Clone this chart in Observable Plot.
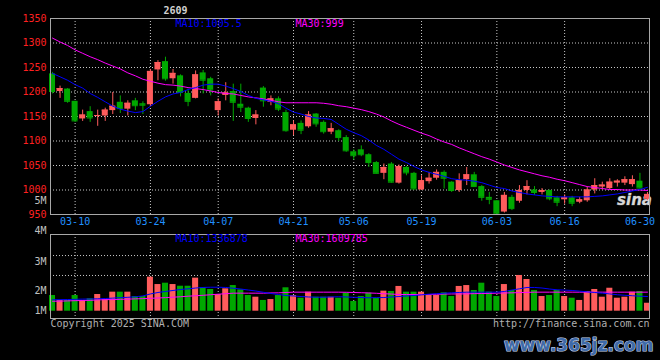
<!DOCTYPE html>
<html><head><meta charset="utf-8">
<script src="https://cdn.jsdelivr.net/npm/d3@7"></script>
<script src="https://cdn.jsdelivr.net/npm/@observablehq/plot@0.6"></script>
<style>
html,body{margin:0;padding:0;background:#000;}
#chart{position:relative;width:660px;height:360px;background:#000;overflow:hidden;}
#chart svg{position:absolute;left:0;overflow:visible;}
</style></head><body><div id="chart"></div>
<script>
const dates = ["03-05","03-06","03-07","03-10","03-11","03-12","03-13","03-14","03-17","03-18",
"03-19","03-20","03-21","03-24","03-25","03-26","03-27","03-28","03-31","04-01",
"04-02","04-03","04-07","04-08","04-09","04-10","04-11","04-14","04-15","04-16",
"04-17","04-18","04-21","04-22","04-23","04-24","04-25","04-28","04-29","04-30",
"05-06","05-07","05-08","05-09","05-12","05-13","05-14","05-15","05-16","05-19",
"05-20","05-21","05-22","05-23","05-26","05-27","05-28","05-29","05-30","06-03",
"06-04","06-05","06-06","06-09","06-10","06-11","06-12","06-13","06-16","06-17",
"06-18","06-19","06-20","06-23","06-24","06-25","06-26","06-27","06-30","07-01"];
const open  = [1237,1201,1206,1181,1145,1160,1150,1151,1162,1179,1165,1182,1176,1174,1245,1262,1227,1233,1197,1187,
1239,1227,1162,1193,1201,1175,1167,1146,1208,1179,1186,1158,1122,1136,1129,1155,1138,1118,1121,1107,
1078,1082,1072,1056,1034,1053,1014,1046,1034,1000,1017,1024,1036,1016,999,1021,1031,1007,985,978,
955,985,977,999,1000,995,999,984,980,984,975,978,1000,1006,1003,1014,1014,1011,1018,981];
const close = [1201,1207,1181,1141,1153,1147,1152,1163,1171,1166,1177,1172,1173,1242,1260,1227,1238,1199,1181,1235,
1224,1204,1180,1198,1179,1169,1146,1153,1182,1186,1165,1121,1133,1122,1153,1135,1119,1125,1107,1080,
1070,1072,1056,1034,1046,1016,1048,1035,1002,1019,1024,1036,1024,999,1019,1031,1007,985,981,951,
989,962,999,1007,995,999,982,975,984,973,980,1000,1009,1010,1016,1018,1021,1021,1004,991];
const high  = [1240,1212,1207,1181,1163,1170,1163,1167,1199,1192,1182,1187,1180,1246,1264,1271,1246,1235,1206,1243,
1244,1230,1186,1219,1216,1216,1169,1162,1211,1192,1190,1163,1141,1141,1160,1156,1141,1136,1123,1111,
1082,1090,1074,1058,1053,1056,1051,1048,1036,1029,1036,1041,1039,1017,1033,1046,1036,1009,995,978,
995,989,1009,1019,1007,1003,1000,987,990,987,985,1006,1023,1016,1023,1021,1027,1029,1034,995];
const low   = [1196,1187,1177,1138,1140,1138,1130,1140,1154,1156,1151,1162,1154,1170,1223,1222,1216,1190,1170,1186,
1196,1192,1151,1182,1140,1158,1138,1133,1169,1172,1160,1118,1111,1113,1126,1128,1114,1113,1099,1077,
1061,1068,1046,1033,1021,1014,1012,1029,1001,999,1012,1020,1002,995,995,1009,1006,977,970,950,
953,958,973,990,989,990,978,966,971,966,972,975,992,1000,1000,1006,1009,1006,1002,978];
const ma10 = [1238,1231,1224,1215,1208,1197,1189,1180,1171,1165,1161,1158,1160,1171,1181,1190,1196,1199,1205,1209,
1214,1216,1216,1212,1207,1201,1193,1187,1184,1181,1176,1167,1159,1155,1150,1147,1146,1144,1134,1124,
1117,1111,1102,1091,1083,1073,1063,1056,1048,1041,1036,1032,1028,1023,1021,1020,1018,1015,1010,1005,
1003,998,995,992,990,988,987,986,986,986,986,986,987,988,990,992,995,998,1001,1005.5];
const ma30 = [1310,1302,1295,1286,1279,1272,1266,1259,1253,1247,1239,1233,1226,1222,1218,1215,1214,1212,1209,1207,
1205,1202,1199,1197,1196,1193,1190,1188,1186,1183,1180,1178,1178,1178,1178,1178,1177,1175,1172,1170,
1167,1164,1160,1155,1149,1141,1134,1128,1122,1116,1111,1104,1098,1093,1086,1080,1074,1068,1063,1057,
1051,1046,1041,1037,1033,1029,1026,1022,1019,1015,1011,1007,1005,1003,1001,1001,1000,1000,1000,999];
// volume in millions
const volumeM = [1.40,0.96,0.96,1.40,0.96,1.11,1.49,1.04,1.70,1.70,1.70,1.31,1.31,3.04,2.38,2.50,2.38,2.23,2.23,2.95,
2.09,1.94,1.49,2.00,2.29,1.91,1.40,1.25,0.96,1.04,1.40,2.09,1.40,1.16,1.70,1.25,1.25,1.25,1.16,1.61,
0.87,1.31,1.61,1.16,1.79,1.76,2.21,1.70,1.70,1.70,1.40,1.40,1.64,1.31,2.21,2.29,1.85,2.50,1.70,1.31,
2.38,1.85,3.19,2.83,1.85,1.31,1.40,1.85,1.31,1.16,0.96,1.76,1.94,1.25,2.05,1.16,1.25,1.70,1.76,0.71];
const volMa10 = [1.02,1.03,1.04,1.06,1.08,1.09,1.11,1.13,1.17,1.21,1.24,1.29,1.36,1.54,1.67,1.76,1.85,1.94,2.00,2.07,
2.12,2.14,2.14,2.12,2.05,1.98,1.89,1.80,1.69,1.58,1.49,1.40,1.36,1.31,1.27,1.25,1.25,1.27,1.29,1.27,
1.24,1.22,1.20,1.21,1.22,1.27,1.31,1.36,1.40,1.46,1.52,1.56,1.61,1.64,1.67,1.70,1.70,1.70,1.70,1.70,
1.76,1.89,2.00,2.12,2.12,2.07,1.98,1.91,1.88,1.85,1.79,1.73,1.67,1.61,1.54,1.47,1.42,1.38,1.34,1.31];
const volMa30 = [0.89,0.90,0.92,0.94,0.96,0.97,1.01,1.03,1.04,1.06,1.08,1.10,1.12,1.15,1.18,1.21,1.25,1.29,1.34,1.38,
1.42,1.47,1.52,1.56,1.61,1.61,1.61,1.61,1.61,1.63,1.64,1.67,1.70,1.70,1.70,1.70,1.70,1.70,1.70,1.69,
1.67,1.65,1.63,1.60,1.56,1.53,1.49,1.49,1.49,1.49,1.49,1.51,1.53,1.54,1.54,1.55,1.57,1.58,1.59,1.61,
1.63,1.64,1.66,1.68,1.70,1.70,1.70,1.70,1.70,1.70,1.70,1.70,1.70,1.70,1.70,1.70,1.70,1.70,1.70,1.70];
const volMa10Label = 1336878, volMa30Label = 1609785;
const priceTicks = [950,1000,1050,1100,1150,1200,1250,1300,1350];
const priceGrid = [1000,1050,1100,1150,1200,1250,1300];
const labelDates = ["03-10","03-24","04-07","04-21","05-06","05-19","06-03","06-16","06-30"];
const gridDates = ["03-10","03-24","04-07","04-21","05-06","05-19","06-03","06-16"];
const volTickLabels = ["5M","4M","3M","2M","1M"];
const volTickAt = [9.82,7.16,4.44,1.80,0];
const volGrid = [3.19,4.97];
const titleText = "2609";

const RED = "#ff5c5c", GREEN = "#00a800";
const table = dates.map((d,i)=>({date:d, open:open[i], close:close[i], high:high[i], low:low[i],
  ma10:ma10[i], ma30:ma30[i], vol:volumeM[i], vma10:volMa10[i], vma30:volMa30[i]}));
const color = d => d.close >= d.open ? RED : GREEN;
const font = "'DejaVu Sans Mono', monospace";
const GRID = {stroke:"#c8c8c8", strokeDasharray:"1,2", strokeWidth:1};
const xScale = () => ({type:"band", domain:dates, range:[47.5,651.5], padding:0.2, axis:null, label:null});
const M = {lineAnchor:"middle"};

const upper = Plot.plot({
  width:660, height:228, marginLeft:50, marginRight:11, marginTop:18, marginBottom:14,
  style:{background:"transparent", fontFamily:font, fontSize:"10px", color:"#c0c0c0", overflow:"visible"},
  x:xScale(),
  y:{domain:[950,1350], range:[214,18], axis:null, label:null},
  marks:[
    Plot.ruleY(priceGrid, GRID),
    Plot.ruleX(gridDates, {x:d=>d, ...GRID}),
    Plot.text(["sina"], {...M, frameAnchor:"bottom-right", dx:-15, dy:-14, textAnchor:"middle", fontSize:15,
      fontStyle:"italic", fontWeight:"bold", fontFamily:"'DejaVu Sans', sans-serif", fill:"#d8d8d8", stroke:"#707070", strokeWidth:0.6}),
    Plot.ruleX(table, {x:"date", y1:"low", y2:"high", stroke:color}),
    Plot.barY(table, {x:"date", y1:"open", y2:"close", fill:color}),
    Plot.tickY(table, {x:"date", y:"close", stroke:color}),
    Plot.line(table, {x:"date", y:"ma30", stroke:"#ff00ff", strokeWidth:1}),
    Plot.line(table, {x:"date", y:"ma10", stroke:"#0000ff", strokeWidth:1}),
    Plot.frame({stroke:"#a8a8a8"}),
    Plot.axisY(priceTicks, {anchor:"left", tickSize:0, tickPadding:4, color:"#ff2020", tickFormat:d=>String(d), label:null}),
    Plot.axisX(labelDates, {anchor:"bottom", tickSize:0, tickPadding:3, color:"#2090ff", label:null}),
    Plot.text([`MA10:${ma10[ma10.length-1]}`], {...M, frameAnchor:"top-left", dx:125, dy:5.5, textAnchor:"start", fill:"#0000ff"}),
    Plot.text([`MA30:${ma30[ma30.length-1]}`], {...M, frameAnchor:"top-left", dx:245, dy:5.5, textAnchor:"start", fill:"#ff00ff"}),
    Plot.text([titleText], {...M, frameAnchor:"top-left", dx:113, dy:-8, textAnchor:"start", fill:"#d0d0d0", fontWeight:"bold"})
  ]
});

const lower = Plot.plot({
  width:660, height:170, marginLeft:50, marginRight:11, marginTop:44, marginBottom:42,
  style:{background:"transparent", fontFamily:font, fontSize:"10px", color:"#c0c0c0", overflow:"visible"},
  x:xScale(),
  y:{domain:[0,6.8], range:[120.7, 120.7-6.8*11.2], axis:null, label:null},
  marks:[
    Plot.ruleY(volGrid, GRID),
    Plot.ruleX(gridDates, {x:d=>d, ...GRID}),
    Plot.barY(table, {x:"date", y:"vol", fill:color}),
    Plot.line(table, {x:"date", y:"vma30", stroke:"#ff00ff", strokeWidth:1}),
    Plot.line(table, {x:"date", y:"vma10", stroke:"#0000ff", strokeWidth:1}),
    Plot.frame({stroke:"#a8a8a8"}),
    Plot.text(volTickLabels.map((t,i)=>({t, v:volTickAt[i]})), {...M, y:"v", text:"t", frameAnchor:"left", textAnchor:"end", dx:-4, fill:"#c0c0c0"}),
    Plot.text([`MA10:${volMa10Label}`], {...M, frameAnchor:"top-left", dx:125, dy:4.5, textAnchor:"start", fill:"#0000ff"}),
    Plot.text([`MA30:${volMa30Label}`], {...M, frameAnchor:"top-left", dx:245, dy:4.5, textAnchor:"start", fill:"#ff00ff"}),
    Plot.text(["Copyright 2025 SINA.COM"], {...M, frameAnchor:"bottom-left", dy:5.5, textAnchor:"start", fill:"#b0b0b0"}),
    Plot.text(["http://finance.sina.com.cn"], {...M, frameAnchor:"bottom-right", dy:5.5, textAnchor:"end", fill:"#b0b0b0"}),
    Plot.text(["www.365jz.com"], {...M, frameAnchor:"bottom-right", dx:4, dy:27, textAnchor:"end", fontSize:17, fontWeight:"bold",
      fontFamily:"'DejaVu Sans', sans-serif", fill:"#3f6aa8", stroke:"#c8d4e8", strokeWidth:1.2, paintOrder:"stroke"})
  ]
});

const chart = document.getElementById("chart");
upper.style.top = "0px";
lower.style.top = "190px";
chart.appendChild(upper);
chart.appendChild(lower);
</script></body></html>
